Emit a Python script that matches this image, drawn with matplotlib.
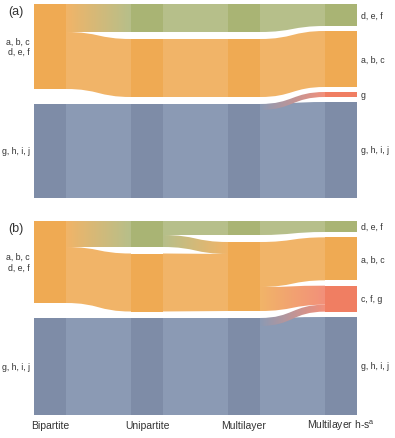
import numpy as np
import matplotlib
matplotlib.use("Agg")
import matplotlib.pyplot as plt
from matplotlib.path import Path
from matplotlib.patches import PathPatch, Rectangle
from matplotlib.colors import to_rgb

plt.rcParams['font.family'] = ['Liberation Sans', 'DejaVu Sans']
plt.rcParams['mathtext.fontset'] = 'custom'
plt.rcParams['mathtext.rm'] = 'Liberation Sans'

column_names = ["Bipartite", "Unipartite", "Multilayer", r"Multilayer h-s$^\mathrm{a}$"]
panel_names = ["(a)", "(b)"]

node_colors = {"orange": "#EFAA53", "green": "#A9B474", "blue": "#7E8CA7", "red": "#F07E62"}
link_colors = {"orange": "#F1B468", "green": "#B6BF8A", "blue": "#8B9AB4", "red": "#F3907A"}

# nodes per column: (label, colour, size)
a_nodes = [
    [("a, b, c\nd, e, f", "orange", 85), ("g, h, i, j", "blue", 94)],
    [("", "green", 28), ("", "orange", 58), ("", "blue", 94)],
    [("", "green", 28), ("", "orange", 58), ("", "blue", 94)],
    [("d, e, f", "green", 22), ("a, b, c", "orange", 56), ("g", "red", 5), ("g, h, i, j", "blue", 96)],
]
b_nodes = [
    [("a, b, c\nd, e, f", "orange", 82), ("g, h, i, j", "blue", 97)],
    [("", "green", 26), ("", "orange", 58), ("", "blue", 97)],
    [("", "green", 14), ("", "orange", 69), ("", "blue", 97)],
    [("d, e, f", "green", 11), ("a, b, c", "orange", 43), ("c, f, g", "red", 26), ("g, h, i, j", "blue", 98)],
]

# links: (from column, source node, target node, source span, target span)
a_links = [
    (0, 0, 0, (0, 28), (0, 28)),
    (0, 0, 1, (28, 85), (0, 58)),
    (0, 1, 2, (0, 94), (0, 94)),
    (1, 0, 0, (0, 28), (0, 28)),
    (1, 1, 1, (0, 58), (0, 58)),
    (1, 2, 2, (0, 94), (0, 94)),
    (2, 0, 0, (0, 28), (0, 22)),
    (2, 1, 1, (0, 58), (0, 56)),
    (2, 2, 3, (0, 94), (0, 96)),
    (2, 2, 2, (0, 6), (0, 5)),
]
b_links = [
    (0, 0, 0, (0, 26), (0, 26)),
    (0, 0, 1, (26, 82), (0, 58)),
    (0, 1, 2, (0, 97), (0, 97)),
    (1, 0, 0, (0, 14), (0, 14)),
    (1, 0, 1, (14, 26), (0, 12)),
    (1, 1, 1, (0, 58), (12, 69)),
    (1, 2, 2, (0, 97), (0, 97)),
    (2, 0, 0, (0, 14), (0, 11)),
    (2, 1, 1, (0, 45), (0, 43)),
    (2, 1, 2, (45, 69), (0, 19)),
    (2, 2, 3, (0, 97), (0, 98)),
    (2, 2, 2, (0, 8), (19, 26)),
]

COL_X = [34, 131, 228, 325]
NODE_W = 32
PANEL_TOP = [5, 222]
PANEL_H = 194


def layout(nodes, top):
    tops = []
    for col in nodes:
        sizes = [n[2] for n in col]
        gap = (PANEL_H - sum(sizes)) / (len(col) - 1)
        y = top
        ys = []
        for s in sizes:
            ys.append(y)
            y += s + gap
        tops.append(ys)
    return tops


def draw_band(ax, x0, x1, t0, b0, t1, b1, c0, c1):
    xm = (x0 + x1) / 2
    verts = [(x0, t0), (xm, t0), (xm, t1), (x1, t1),
             (x1, b1), (xm, b1), (xm, b0), (x0, b0), (x0, t0)]
    codes = [Path.MOVETO, Path.CURVE4, Path.CURVE4, Path.CURVE4,
             Path.LINETO, Path.CURVE4, Path.CURVE4, Path.CURVE4, Path.CLOSEPOLY]
    path = Path(verts, codes)
    if c0 == c1:
        ax.add_patch(PathPatch(path, fc=c0, ec='none', zorder=1))
        return
    patch = PathPatch(path, fc='none', ec='none')
    ax.add_patch(patch)
    g = np.linspace(0, 1, 256)[:, None]
    rgb = (1 - g) * np.array(to_rgb(c0)) + g * np.array(to_rgb(c1))
    im = ax.imshow(rgb[None, :, :], extent=(x0, x1, max(b0, b1), min(t0, t1)),
                   aspect='auto', interpolation='bilinear', zorder=1.5)
    im.set_clip_path(patch)


fig = plt.figure(figsize=(3.95, 4.39), dpi=100)
ax = fig.add_axes([0, 0, 1, 1])

for p, (nodes, links) in enumerate([(a_nodes, a_links), (b_nodes, b_links)]):
    tops = layout(nodes, PANEL_TOP[p])
    for c, s, t, (s0, s1), (t0, t1) in links:
        x0 = COL_X[c] + NODE_W
        x1 = COL_X[c + 1]
        ys = tops[c][s]
        yt = tops[c + 1][t]
        cs = link_colors[nodes[c][s][1]]
        ct = link_colors[nodes[c + 1][t][1]]
        draw_band(ax, x0, x1, ys + s0, ys + s1, yt + t0, yt + t1, cs, ct)
    for c, col in enumerate(nodes):
        for i, (label, color, size) in enumerate(col):
            y = tops[c][i]
            ax.add_patch(Rectangle((COL_X[c], y), NODE_W, size, fc=node_colors[color],
                                   ec='none', zorder=2))
            if c == 0:
                ax.text(30, y + size / 2, label, ha='right', va='center', fontsize=6.3,
                        color='#333333', linespacing=1.2)
            elif c == len(nodes) - 1:
                ax.text(361, y + size / 2, label, ha='left', va='center', fontsize=6.3,
                        color='#333333')
    ax.text(8, PANEL_TOP[p] + 7, panel_names[p], ha='left', va='center', fontsize=9,
            color='#333333')

for c, name in enumerate(column_names):
    ax.text(COL_X[c] + NODE_W / 2, 426, name, ha='center', va='center', fontsize=7.5,
            color='#333333')

ax.set_xlim(0, 395)
ax.set_ylim(439, 0)
ax.axis('off')
fig.savefig("out.png", dpi=100)
